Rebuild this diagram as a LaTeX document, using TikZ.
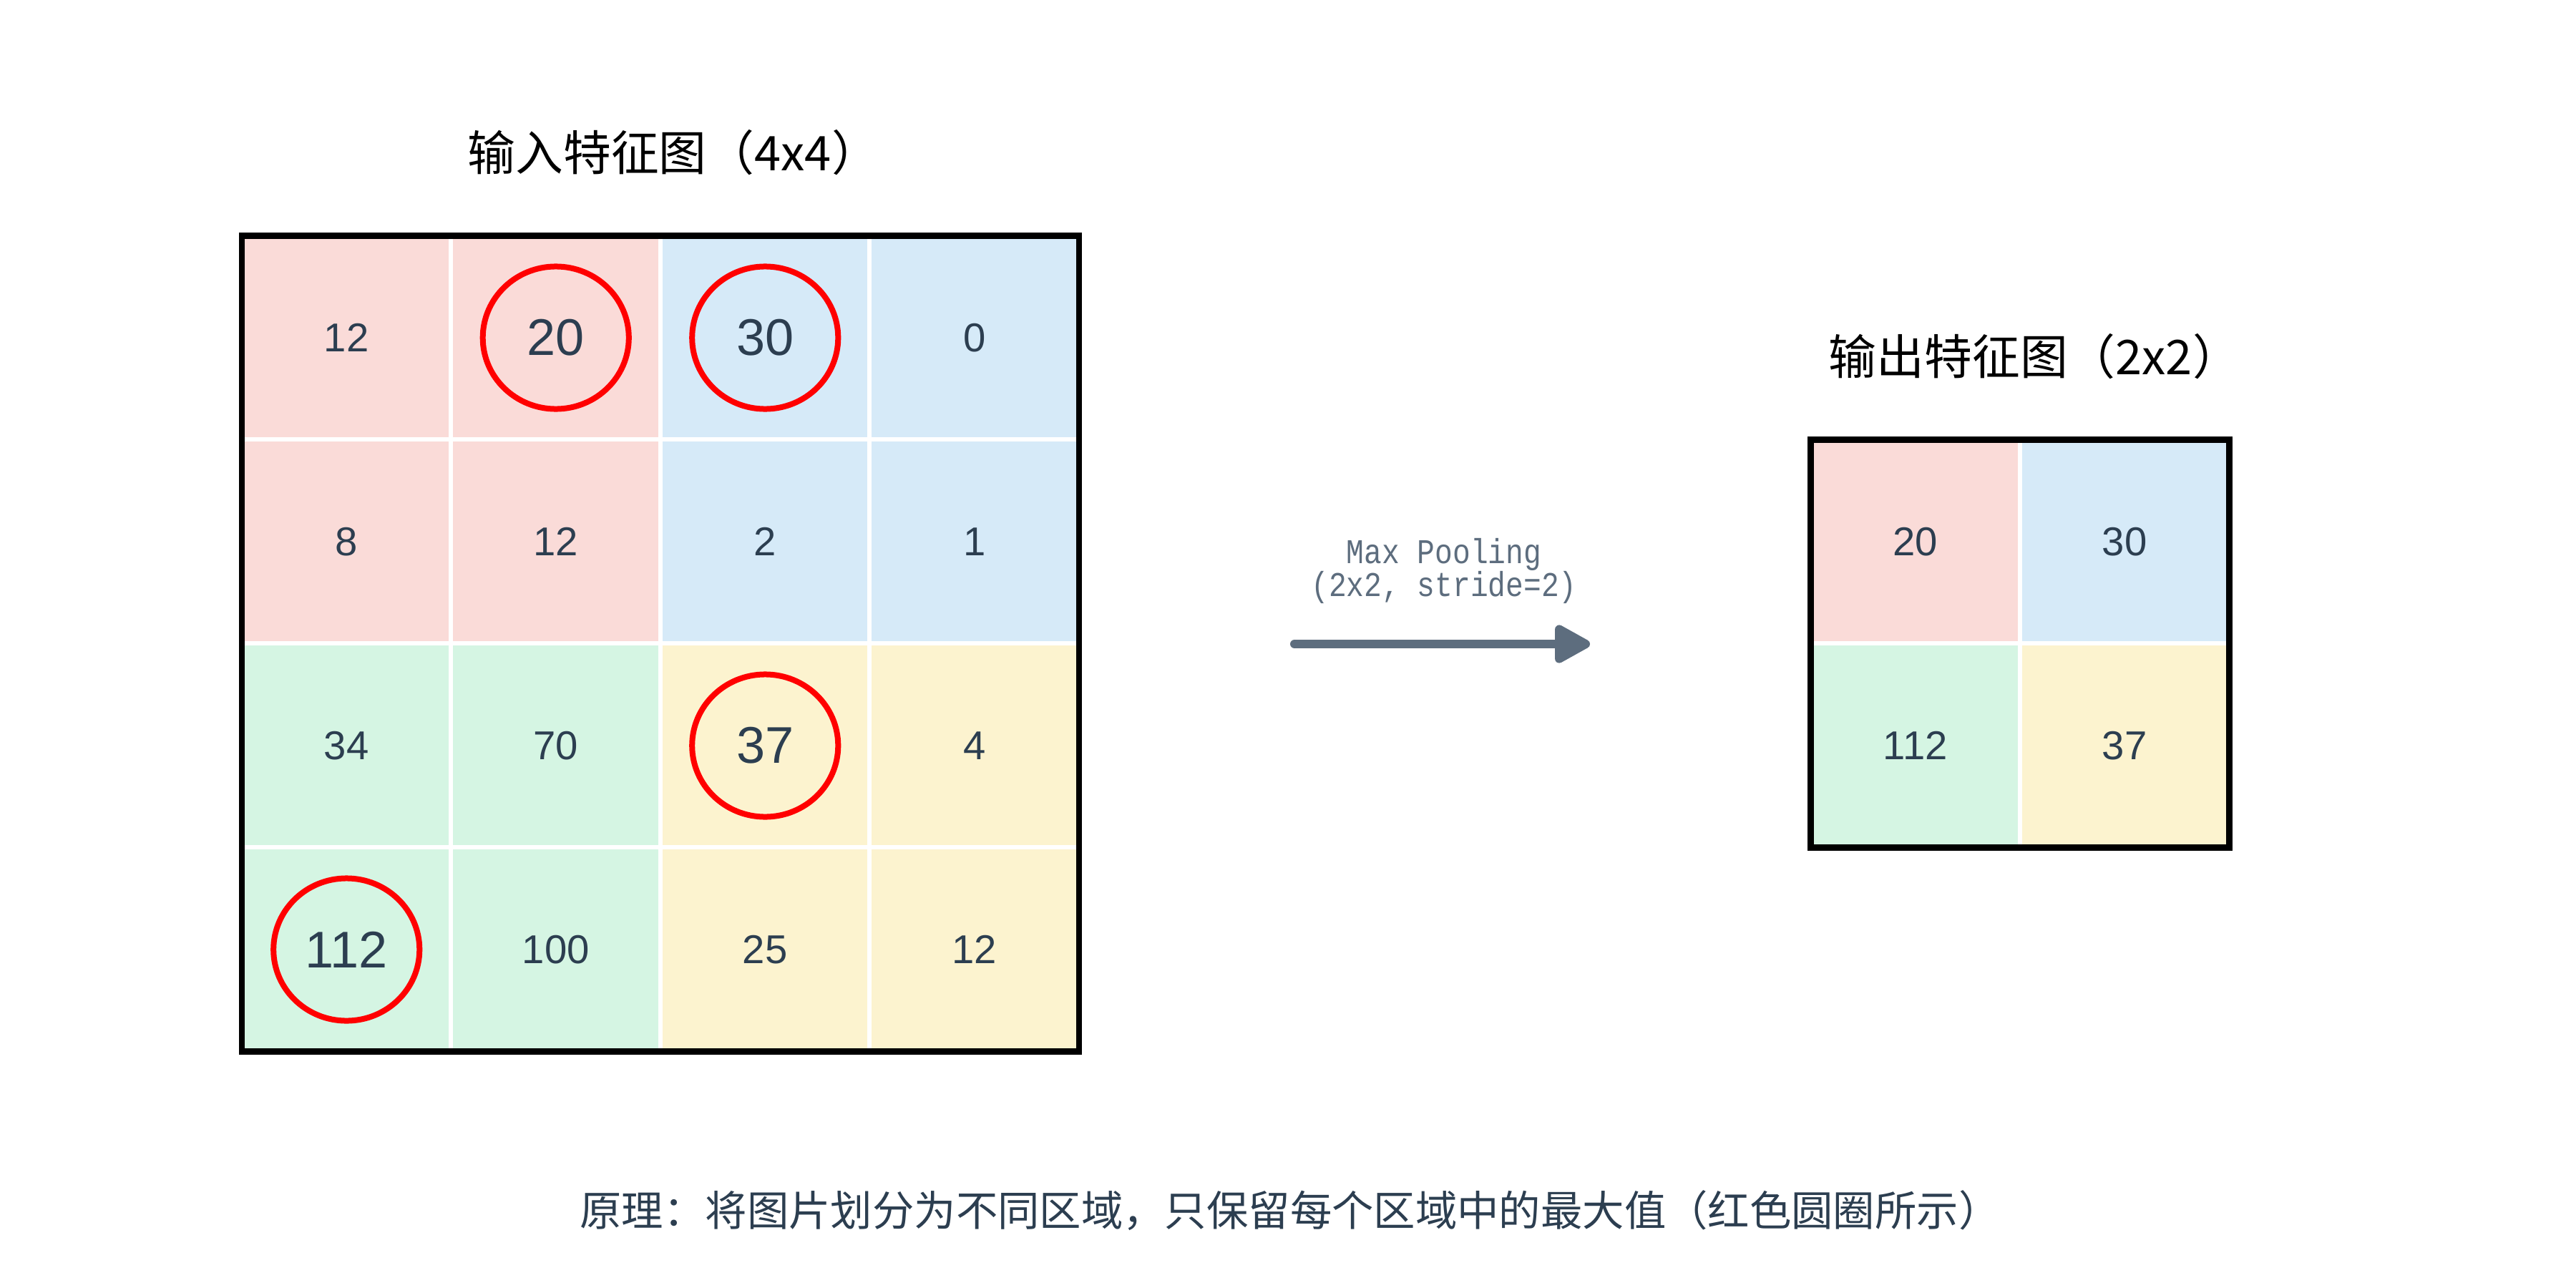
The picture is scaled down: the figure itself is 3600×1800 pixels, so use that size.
\documentclass[tikz,border=0pt]{standalone}
\usepackage{fontspec}
\setmainfont{Liberation Sans}
\newfontfamily\cjk{Noto Sans CJK SC}
\newfontfamily\monofont[FakeStretch=0.85]{Liberation Mono}
\usetikzlibrary{arrows.meta}
\definecolor{pinkc}{HTML}{FADBD8}
\definecolor{bluec}{HTML}{D6EAF8}
\definecolor{greenc}{HTML}{D5F5E3}
\definecolor{yellowc}{HTML}{FCF3CF}
\definecolor{txt}{HTML}{2C3E50}
\definecolor{arrowc}{HTML}{5D6D7E}
\definecolor{ringred}{HTML}{FF0000}
\begin{document}
\begin{tikzpicture}[x=0.01cm,y=-0.01cm,
  cell/.style={draw=white, line width=0.06cm, minimum width=2.925cm, minimum height=2.85cm,
    inner sep=0pt, outer sep=0pt, text=txt, font=\fontsize{16}{19}\selectfont},
  big/.style={font=\fontsize{20.5}{24}\selectfont},
  ring/.style={draw=ringred, line width=0.08cm},
  frame/.style={draw=black, line width=0.085cm},
  title/.style={font=\cjk\fontsize{19}{23}\selectfont, text=black, inner sep=0pt, anchor=west},
  lbl/.style={font=\monofont\fontsize{13.8}{13.1}\selectfont, text=arrowc, align=center, inner sep=0pt},
  caption/.style={font=\cjk\fontsize{16.6}{20}\selectfont, text=txt, inner sep=0pt},
  flow/.style={draw=arrowc, line width=0.12cm, line cap=round,
    -{Triangle[length=0.56cm, width=0.58cm, round]}}
]
\useasboundingbox (0,0) rectangle (3600,1800);
\fill[white] (0,0) rectangle (3600,1800);

% titles
\node[title] (tin) at (653,213) {输入特征图（4x4）};
\node[title] (tout) at (2555,498) {输出特征图（2x2）};

% input grid
\node[cell, fill=pinkc]   (a00) at (484.25,472) {12};
\node[cell, fill=pinkc, big]   (a01) at (776.75,472) {20};
\node[cell, fill=bluec, big]   (a02) at (1069.25,472) {30};
\node[cell, fill=bluec]   (a03) at (1361.75,472) {0};
\node[cell, fill=pinkc]   (a10) at (484.25,757) {8};
\node[cell, fill=pinkc]   (a11) at (776.75,757) {12};
\node[cell, fill=bluec]   (a12) at (1069.25,757) {2};
\node[cell, fill=bluec]   (a13) at (1361.75,757) {1};
\node[cell, fill=greenc]  (a20) at (484.25,1042) {34};
\node[cell, fill=greenc]  (a21) at (776.75,1042) {70};
\node[cell, fill=yellowc, big] (a22) at (1069.25,1042) {37};
\node[cell, fill=yellowc] (a23) at (1361.75,1042) {4};
\node[cell, fill=greenc, big]  (a30) at (484.25,1327) {112};
\node[cell, fill=greenc]  (a31) at (776.75,1327) {100};
\node[cell, fill=yellowc] (a32) at (1069.25,1327) {25};
\node[cell, fill=yellowc] (a33) at (1361.75,1327) {12};
\draw[frame] (a00.north west) rectangle (a33.south east);

% rings
\draw[ring] (a01.center) ellipse [x radius=1.02cm, y radius=0.995cm];
\draw[ring] (a02.center) ellipse [x radius=1.02cm, y radius=0.995cm];
\draw[ring] (a22.center) ellipse [x radius=1.02cm, y radius=0.995cm];
\draw[ring] (a30.center) ellipse [x radius=1.02cm, y radius=0.995cm];

% output grid
\node[cell, fill=pinkc]   (b00) at (2676.75,757) {20};
\node[cell, fill=bluec]   (b01) at (2969.25,757) {30};
\node[cell, fill=greenc]  (b10) at (2676.75,1042) {112};
\node[cell, fill=yellowc] (b11) at (2969.25,1042) {37};
\draw[frame] (b00.north west) rectangle (b11.south east);

% arrow
\coordinate (arS) at (1809,900);
\coordinate (arE) at (2222,900);
\draw[flow] (arS) -- (arE);
\node[lbl] (lab) at (2018,798) {Max Pooling\\(2x2, stride=2)};

% caption
\node[caption] (cap) at (1803,1692) {原理：将图片划分为不同区域，只保留每个区域中的最大值（红色圆圈所示）};
\end{tikzpicture}
\end{document}
